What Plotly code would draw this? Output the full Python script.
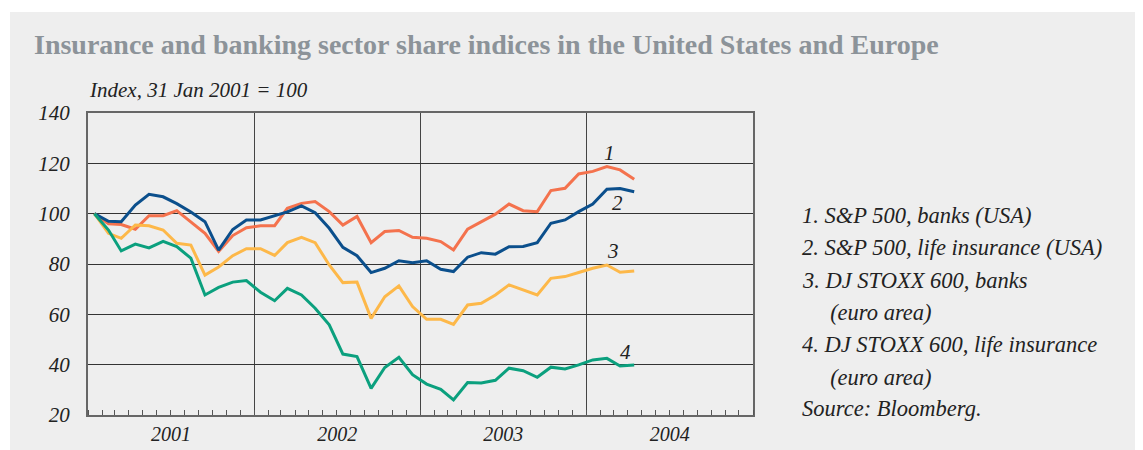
import plotly.graph_objects as go
import pandas as pd

# Monthly observations, Jan 2001 .. Apr 2004 (index, 31 Jan 2001 = 100)
months = [d.strftime("%Y-%m-15") for d in pd.date_range("2001-01-01", "2004-04-01", freq="MS")]

sp_banks = [100, 96.0, 95.7, 93.8, 99.2, 99.2, 101.2, 96.8, 92.2, 85.0,
            91.3, 94.4, 95.2, 95.2, 102.1, 104.1, 104.8, 100.8, 95.5, 98.9,
            88.5, 92.9, 93.3, 90.6, 90.2, 88.9, 85.6, 93.8, 96.8, 99.8,
            103.8, 101.2, 100.8, 109.2, 110.1, 115.8, 116.8, 118.7, 117.4, 113.7]
sp_life = [100, 97.0, 96.8, 103.4, 107.7, 106.7, 104.0, 100.7, 96.8, 85.5,
           93.7, 97.5, 97.5, 99.2, 100.7, 103.1, 100.4, 94.2, 86.6, 83.3,
           76.6, 78.3, 81.3, 80.5, 81.3, 77.9, 77.0, 82.7, 84.5, 83.9,
           86.9, 87.0, 88.5, 96.2, 97.5, 100.8, 103.8, 109.7, 110.0, 108.7]
stoxx_banks = [100, 92.2, 90.2, 95.5, 95.2, 93.5, 88.2, 87.5, 75.6, 78.8,
               83.3, 86.1, 86.1, 83.4, 88.5, 90.6, 88.5, 79.6, 72.6, 72.8,
               58.4, 67.0, 71.3, 63.1, 58.0, 58.0, 56.0, 63.7, 64.4, 67.7,
               71.7, 69.7, 67.7, 74.3, 75.0, 76.6, 78.3, 79.6, 76.7, 77.2]
stoxx_life = [100, 93.5, 85.2, 87.9, 86.4, 89.0, 86.9, 82.3, 67.7, 70.7,
              72.8, 73.4, 68.8, 65.4, 70.3, 67.7, 62.4, 55.8, 44.2, 43.2,
              30.6, 38.9, 42.9, 36.0, 32.3, 30.2, 26.0, 32.9, 32.7, 33.8,
              38.6, 37.6, 35.0, 39.0, 38.3, 39.9, 41.9, 42.5, 39.5, 39.9]

series_names = ["S&P 500, banks (USA)", "S&P 500, life insurance (USA)",
                "DJ STOXX 600, banks (euro area)", "DJ STOXX 600, life insurance (euro area)"]
series_values = [sp_banks, sp_life, stoxx_banks, stoxx_life]
series_colors = ["#F4724D", "#0B4F8C", "#FDB849", "#0BA07E"]

legend_lines = ["1. S&amp;P 500, banks (USA)",
                "2. S&amp;P 500, life insurance (USA)",
                "3. DJ STOXX 600, banks",
                "    (euro area)",
                "4. DJ STOXX 600, life insurance",
                "    (euro area)",
                "Source: Bloomberg."]

# page offset (body margin) and layout in screenshot pixels
OFF = 8
W, H = 1143 - OFF, 450 - OFF
L, R, T, B = 88, 753, 113, 415

def px(x):
    return (x - L) / (R - L)

def py(y):
    return (B - y) / (B - T)

SERIF = "Liberation Serif"
TXT = "#222222"

fig = go.Figure()
for name, vals, col in zip(series_names, series_values, series_colors):
    fig.add_trace(go.Scatter(x=months, y=vals, mode="lines", name=name,
                             line=dict(color=col, width=3), showlegend=False))

annotations = []
annotations.append(dict(text="<b>Insurance and banking sector share indices in the United States and Europe</b>",
                        x=px(32), y=py(44), xref="paper", yref="paper", xanchor="left", yanchor="middle",
                        showarrow=False, font=dict(family=SERIF, size=28, color="#8C9399")))
annotations.append(dict(text="Index, 31 Jan 2001 = 100",
                        x=px(87), y=py(90), xref="paper", yref="paper", xanchor="left", yanchor="middle",
                        showarrow=False, font=dict(family=SERIF, size=21, color=TXT, style="italic")))
leg_y = [215, 247, 280, 312, 344, 377, 408]
for txt, yy in zip(legend_lines, leg_y):
    annotations.append(dict(text=txt.replace("    ", "&nbsp;&nbsp;&nbsp;&nbsp;&nbsp;"),
                            x=px(800), y=py(yy), xref="paper", yref="paper",
                            xanchor="left", yanchor="middle", showarrow=False,
                            font=dict(family=SERIF, size=22.5, color=TXT, style="italic")))
for lab, (lx, ly) in zip(["1", "2", "3", "4"], [(609, 153), (617, 203), (613, 251), (625, 352)]):
    annotations.append(dict(text=lab, x=px(lx), y=py(ly), xref="paper", yref="paper",
                            xanchor="center", yanchor="middle", showarrow=False,
                            font=dict(family=SERIF, size=21, color=TXT, style="italic")))

fig.update_layout(
    width=W, height=H,
    margin=dict(l=L - OFF, r=W - (R - OFF), t=T - OFF, b=H - (B - OFF), pad=0, autoexpand=False),
    paper_bgcolor="#FFFFFF",
    plot_bgcolor="rgba(0,0,0,0)",
    annotations=annotations,
    shapes=[dict(type="rect", xref="paper", yref="paper", layer="below",
                 x0=px(10), x1=px(1160), y0=py(470), y1=py(12),
                 fillcolor="#EEEEEE", line=dict(width=0))],
    xaxis=dict(type="date", range=["2001-01-01", "2005-01-01"], automargin=False,
               tick0="2001-01-01", dtick="M12", tickformat="%Y", ticklabelmode="period",
               ticks="inside", ticklen=5, tickcolor="#555555", tickwidth=1,
               showgrid=True, gridcolor="#444444", gridwidth=1,
               showline=True, mirror=True, linecolor="#666666", linewidth=2,
               zeroline=False,
               tickfont=dict(family=SERIF, size=20, color=TXT, style="italic"),
               minor=dict(dtick="M1", ticks="inside", ticklen=5, tickcolor="#555555", showgrid=False)),
    yaxis=dict(range=[20, 140], dtick=20, tick0=20, automargin=False,
               showgrid=True, gridcolor="#333333", gridwidth=1,
               showline=True, mirror=True, linecolor="#666666", linewidth=2,
               zeroline=False, ticks="", ticklabelstandoff=12,
               tickfont=dict(family=SERIF, size=21, color=TXT, style="italic")),
)

fig.write_html("out.html")
